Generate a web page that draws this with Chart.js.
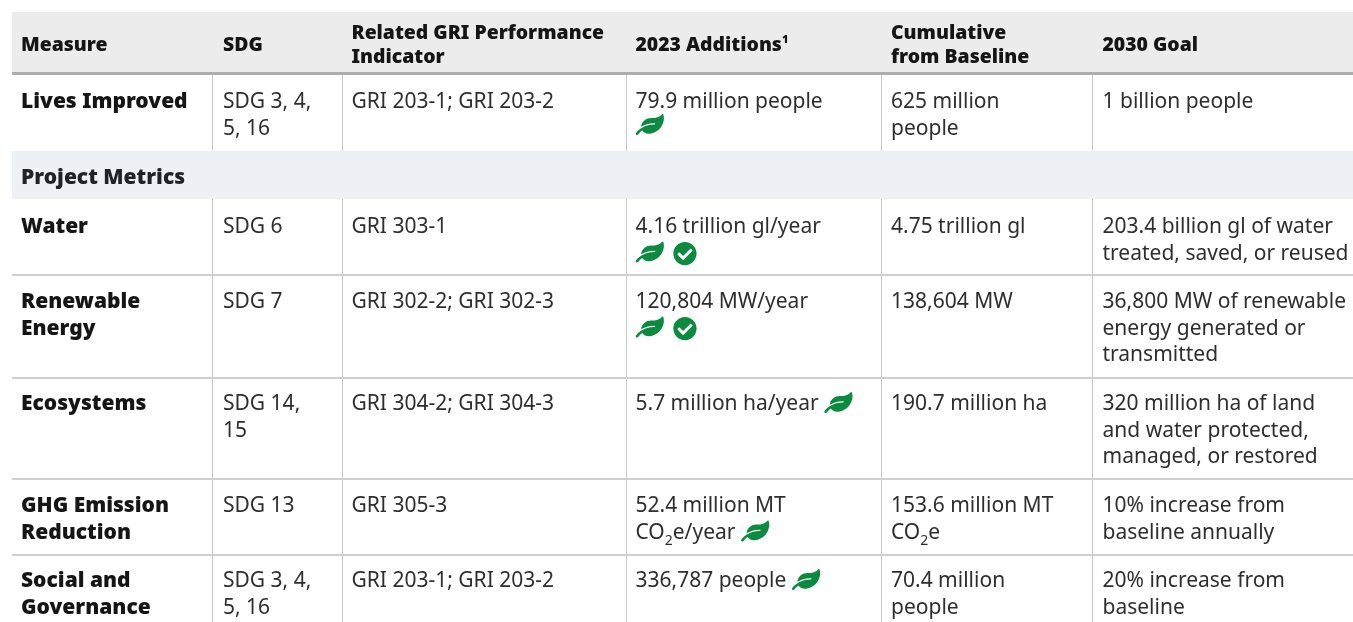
<!DOCTYPE html>
<html>
<head>
<meta charset="utf-8">
<title>Impact metrics table</title>
<script src="https://cdn.jsdelivr.net/npm/chart.js@4/dist/chart.umd.min.js"></script>
<style>
    html, body { margin: 0; padding: 0; background: #fff; overflow: hidden; }
    #wrap { width: 1353px; height: 622px; }
</style>
</head>
<body>
<div id="wrap"><canvas id="tableChart" width="1353" height="622"></canvas></div>
<script>
// Table content. {leaf}, {leafUp} and {check} are icons, _2 and ^1 are small sub/superscripts
const headers = ["Measure", "SDG", "Related GRI Performance\nIndicator", "2023 Additions^1", "Cumulative\nfrom Baseline", "2030 Goal"];
const sectionTitle = "Project Metrics";
const measures = ["Lives Improved", "Water", "Renewable\nEnergy", "Ecosystems", "GHG Emission\nReduction", "Social and\nGovernance"];
const sdgs = ["SDG 3, 4,\n5, 16", "SDG 6", "SDG 7", "SDG 14,\n15", "SDG 13", "SDG 3, 4,\n5, 16"];
const griIndicators = ["GRI 203-1; GRI 203-2", "GRI 303-1", "GRI 302-2; GRI 302-3", "GRI 304-2; GRI 304-3", "GRI 305-3", "GRI 203-1; GRI 203-2"];
const additions = ["79.9 million people\n{leafUp}", "4.16 trillion gl/year\n{leaf} {check}", "120,804 MW/year\n{leaf} {check}", "5.7 million ha/year {leaf}", "52.4 million MT\nCO_2e/year {leaf}", "336,787 people {leaf}"];
const cumulative = ["625 million\npeople", "4.75 trillion gl", "138,604 MW", "190.7 million ha", "153.6 million MT\nCO_2e", "70.4 million\npeople"];
const goals = ["1 billion people", "203.4 billion gl of water\ntreated, saved, or reused", "36,800 MW of renewable\nenergy generated or\ntransmitted", "320 million ha of land\nand water protected,\nmanaged, or restored", "10% increase from\nbaseline annually", "20% increase from\nbaseline"];

// Layout, in the units of the two linear axes
const columnText = [21, 223, 351.5, 635.5, 891, 1102.5];
const columnRules = [213, 342, 626, 881, 1092];
const rowRules = [274.5, 377.5, 478.5, 554.5];
const rowBaselines = [108, 233, 308, 410, 512, 587];
const headerBaselines = [51, 39];
const sectionBaseline = 184;

const BODY_FONT = '21px "Noto Sans"';
const BOLD_FONT = '900 21px "Noto Sans"';
const HEAD_FONT = '900 19.4px "Noto Sans"';
const LINE_HEIGHT = 26.5;
const HEAD_LINE_HEIGHT = 24;
const GREEN = '#0b8a40';

const leafIcon = new Path2D("M546.2 9.7c-5.6-12.5-21.6-13-28.3-1.2C486.9 62.4 431.4 96 368 96h-80C182 96 96 182 96 288c0 7 .8 13.7 1.5 20.5C161.3 262.8 253.4 224 384 224c8.8 0 16 7.2 16 16s-7.2 16-16 16C132.6 256 26 410.1 2.4 468c-6.6 16.3 1.2 34.9 17.5 41.6 16.4 6.8 35-1.1 41.8-17.3 1.5-3.6 20.9-47.9 71.9-90.6 32.4 43.9 94 85.8 174.9 77.2C465.5 467.5 576 326.7 576 154.3c0-50.2-10.8-102.2-29.8-144.6z");
const checkIcon = new Path2D("M504 256c0 136.967-111.033 248-248 248S8 392.967 8 256 119.033 8 256 8s248 111.033 248 248zM227.314 387.314l184-184c6.248-6.248 6.248-16.379 0-22.627l-22.627-22.627c-6.248-6.249-16.379-6.249-22.628 0L216 308.118l-70.059-70.059c-6.248-6.248-16.379-6.248-22.628 0l-22.627 22.627c-6.248 6.248-6.248 16.379 0 22.627l104 104c6.249 6.25 16.379 6.25 22.628.001z");

// Function to draw one line of a cell, with its icons and small figures
function drawLine(ctx, line, x, y, font, color) {
    const parts = line.split(/(\{leaf\}|\{leafUp\}|\{check\}|_2|\^1)/).filter(p => p !== "");
    parts.forEach(part => {
        if (part === "{leaf}" || part === "{leafUp}") {
            ctx.save();
            ctx.translate(x, y - (part === "{leaf}" ? 18 : 20.5));
            ctx.transform(1, 0, -0.15, 1, 3.2, 0);
            ctx.scale(26 / 576, 21 / 512);
            ctx.fillStyle = GREEN;
            ctx.fill(leafIcon);
            ctx.restore();
            x += 29;
        } else if (part === "{check}") {
            ctx.save();
            ctx.translate(x + 3, y - 18);
            ctx.scale(24 / 512, 24 / 512);
            ctx.fillStyle = GREEN;
            ctx.fill(checkIcon);
            ctx.restore();
            x += 27;
        } else if (part === "_2" || part === "^1") {
            ctx.font = part === "_2" ? '14px "Noto Sans"' : '900 11px "Noto Sans"';
            ctx.fillStyle = color;
            const text = part.slice(1);
            ctx.fillText(text, x, part === "_2" ? y + 6 : y - 8);
            x += ctx.measureText(text).width;
        } else {
            ctx.font = font;
            ctx.fillStyle = color;
            ctx.fillText(part, x, y);
            x += ctx.measureText(part).width;
        }
    });
}

function drawCell(chart, text, column, baseline, font, color, lineHeight) {
    const ctx = chart.ctx;
    const x = chart.scales.x.getPixelForValue(columnText[column]);
    text.split("\n").forEach((line, i) => {
        const y = chart.scales.y.getPixelForValue(baseline + i * lineHeight);
        drawLine(ctx, line, x, y, font, color);
    });
}

// Plugin that writes the cell contents through the chart scales
const tableText = {
    id: 'tableText',
    afterDatasetsDraw(chart) {
        const ctx = chart.ctx;
        ctx.save();
        ctx.textAlign = 'left';
        ctx.textBaseline = 'alphabetic';
        headers.forEach((label, c) => {
            const baseline = headerBaselines[label.includes("\n") ? 1 : 0];
            drawCell(chart, label, c, baseline, HEAD_FONT, '#151515', HEAD_LINE_HEIGHT);
        });
        drawCell(chart, sectionTitle, 0, sectionBaseline, BOLD_FONT, '#1f2328', LINE_HEIGHT);
        const columns = [measures, sdgs, griIndicators, additions, cumulative, goals];
        columns.forEach((cells, c) => {
            cells.forEach((text, r) => {
                const font = c === 0 ? BOLD_FONT : BODY_FONT;
                const color = c === 0 ? '#151515' : '#2e2e2e';
                drawCell(chart, text, c, rowBaselines[r], font, color, LINE_HEIGHT);
            });
        });
        ctx.restore();
    }
};

// Filled band between two y values, across the full table width
function band(top, bottom, color) {
    return {
        data: [{ x: 12, y: top }, { x: 1353, y: top }],
        backgroundColor: color,
        borderWidth: 0,
        pointRadius: 0,
        fill: { value: bottom }
    };
}

new Chart(document.getElementById("tableChart"), {
    type: 'line',
    data: {
        datasets: [
            band(12, 72, '#ececec'),
            band(72, 75, '#adadad'),
            band(151, 199, '#edf0f5')
        ]
    },
    options: {
        responsive: false,
        animation: false,
        events: [],
        layout: { padding: { left: 12, top: 12, right: 0, bottom: 0 } },
        plugins: { legend: { display: false }, tooltip: { enabled: false } },
        scales: {
            x: {
                type: 'linear', min: 12, max: 1353,
                afterBuildTicks: scale => { scale.ticks = columnRules.map(value => ({ value })); },
                ticks: { display: false },
                border: { display: false },
                grid: { color: '#c9c9c9', lineWidth: 1, drawTicks: false }
            },
            y: {
                type: 'linear', min: 12, max: 622, reverse: true,
                afterBuildTicks: scale => { scale.ticks = rowRules.map(value => ({ value })); },
                ticks: { display: false },
                border: { display: false },
                grid: { color: '#cfcfcf', lineWidth: 2, drawTicks: false }
            }
        }
    },
    plugins: [tableText]
});
</script>
</body>
</html>
